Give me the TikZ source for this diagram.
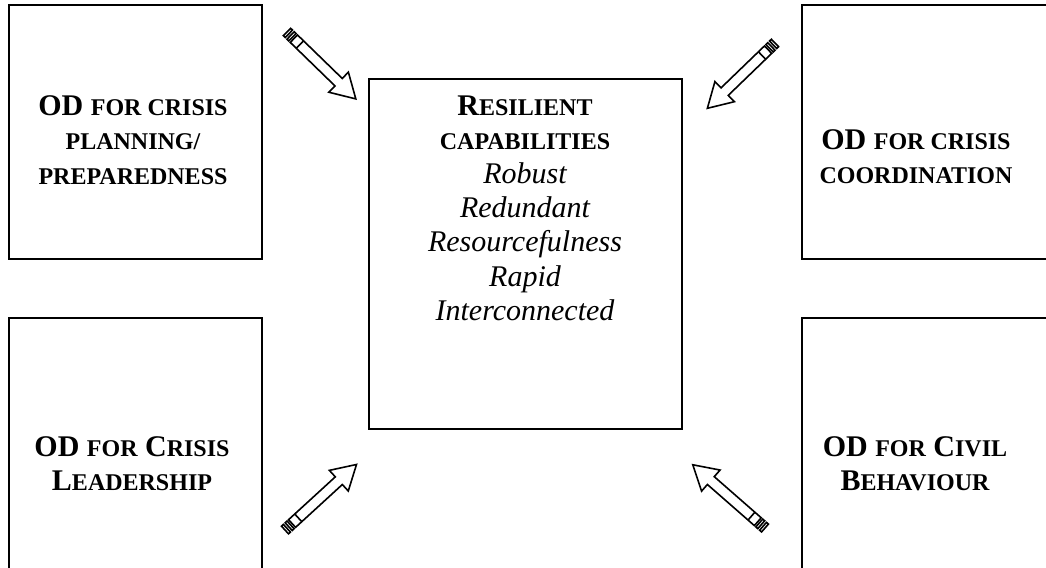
\documentclass[tikz,border=0pt]{standalone}
\usepackage{fontspec}
\setmainfont{Liberation Serif}
\newcommand\smc[1]{{\fontsize{12pt}{17.1pt}\selectfont #1}}
\newcommand\itl[1]{{\mdseries\itshape #1}}
\newcommand\blockarrow[3]{%
  \begin{scope}[shift={(#1)}, rotate=#2]
    \draw[arr] (4.8pt,-2.6pt) -- (#3pt-12pt,-2.6pt) -- (#3pt-12pt,-7pt) -- (#3pt,0pt)
      -- (#3pt-12pt,7pt) -- (#3pt-12pt,2.6pt) -- (4.8pt,2.6pt) -- cycle;
    \draw[arr] (9pt,-2.6pt) -- (9pt,2.6pt);
    \draw[arr] (0pt,-2.6pt) rectangle (1.3pt,2.6pt);
    \draw[arr] (2.5pt,-2.6pt) rectangle (3.8pt,2.6pt);
  \end{scope}}
\begin{document}
\begin{tikzpicture}[x=0.5pt,y=-0.5pt,
  box/.style={draw, line width=1pt, inner sep=0pt, outer sep=0pt, anchor=north west},
  sidebox/.style={box, minimum width=126.5pt, minimum height=127pt},
  label/.style={align=center, inner sep=0pt, font=\fontsize{15pt}{17.1pt}\selectfont\bfseries},
  arr/.style={line width=0.8pt, fill=white, line join=miter}]
\useasboundingbox (0,0) rectangle (1046,568);
% boxes
\node[sidebox] (tl) at (9,5) {};
\node[sidebox] (tr) at (802,5) {};
\node[sidebox] (bl) at (9,318) {};
\node[sidebox] (br) at (802,318) {};
\node[box, minimum width=156.5pt, minimum height=175pt] (c) at (369,79) {};
% texts
\node[label] (tlt) at (133,140) {OD \smc{FOR CRISIS}\\ \smc{PLANNING/}\\ \smc{PREPAREDNESS}};
\node[label] (trt) at (916,157) {OD \smc{FOR CRISIS}\\ \smc{COORDINATION}};
\node[label] (blt) at (132,464) {OD \smc{FOR} C\smc{RISIS}\\ L\smc{EADERSHIP}};
\node[label] (brt) at (915,464) {OD \smc{FOR} C\smc{IVIL}\\ B\smc{EHAVIOUR}};
\node[label] (ct) at (525,208) {R\smc{ESILIENT}\\ \smc{CAPABILITIES}\\ \itl{Robust}\\ \itl{Redundant}\\ \itl{Resourcefulness}\\ \itl{Rapid}\\ \itl{Interconnected}};
% arrows
\coordinate (a1) at (287,32);
\coordinate (a2) at (775,43);
\coordinate (a3) at (285,530);
\coordinate (a4) at (765,528);
\blockarrow{a1}{-44.2}{48}
\blockarrow{a2}{224}{47}
\blockarrow{a3}{42.5}{48.5}
\blockarrow{a4}{138.8}{48}
\end{tikzpicture}
\end{document}
